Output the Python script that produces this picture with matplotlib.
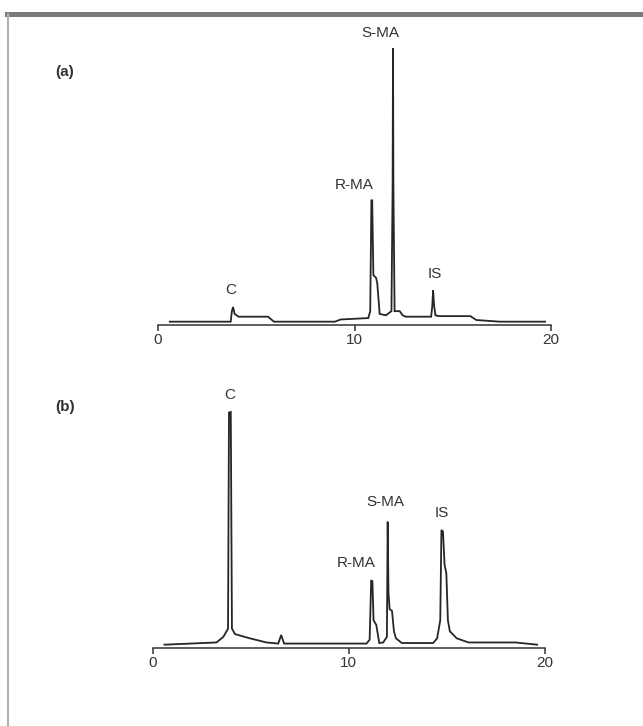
import matplotlib
matplotlib.use("Agg")
import matplotlib.pyplot as plt
from matplotlib.lines import Line2D

plt.rcParams['font.family'] = ['Liberation Sans', 'DejaVu Sans']

# chromatogram (a): retention time (min) and detector response (arbitrary units)
t_a = [0.6, 3.7, 3.76, 3.82, 3.9, 4.1, 5.6, 5.9, 9.0, 9.3, 10.7, 10.8, 10.86, 10.9, 10.96, 11.1, 11.16,
       11.28, 11.6, 11.88, 11.94, 11.96, 11.98, 12.04, 12.3, 12.45, 12.6, 13.9, 13.96, 14.0, 14.05, 14.12,
       14.3, 15.9, 16.2, 17.4, 19.7]
y_a = [0.012, 0.012, 0.05, 0.065, 0.04, 0.03, 0.03, 0.012, 0.012, 0.02, 0.025, 0.05, 0.45, 0.45, 0.18, 0.17,
       0.15, 0.04, 0.035, 0.05, 0.5, 1.0, 0.5, 0.05, 0.05, 0.035, 0.03, 0.03, 0.07, 0.126, 0.07, 0.035,
       0.032, 0.032, 0.018, 0.012, 0.012]

# chromatogram (b)
t_b = [0.6, 3.25, 3.6, 3.84, 3.89, 3.98, 4.04, 4.2, 4.95, 5.8, 6.4, 6.55, 6.7, 10.9, 11.06, 11.14, 11.2,
       11.26, 11.4, 11.55, 11.75, 11.94, 11.98, 12.02, 12.08, 12.2, 12.3, 12.4, 12.7, 14.3, 14.5, 14.66,
       14.72, 14.8, 14.88, 14.97, 15.05, 15.15, 15.5, 16.1, 18.5, 19.6]
y_b = [0.012, 0.02, 0.04, 0.07, 0.85, 0.852, 0.07, 0.05, 0.035, 0.02, 0.016, 0.047, 0.016, 0.016, 0.03,
       0.245, 0.24, 0.1, 0.083, 0.018, 0.02, 0.04, 0.456, 0.2, 0.14, 0.134, 0.06, 0.035, 0.018, 0.018, 0.035,
       0.1, 0.426, 0.42, 0.3, 0.27, 0.1, 0.06, 0.035, 0.02, 0.02, 0.012]

# peak labels: (text, time, height)
labels_a = [("C", 3.7, 0.126), ("R-MA", 10.0, 0.505), ("S-MA", 11.33, 1.054), ("IS", 14.1, 0.184)]
labels_b = [("C", 3.94, 0.913), ("R-MA", 10.37, 0.307), ("S-MA", 11.85, 0.527), ("IS", 14.76, 0.487)]

xticks = [0, 10, 20]

W, H = 643, 726
fig = plt.figure(figsize=(W / 100, H / 100), dpi=100)

# scanned page border
fig.add_artist(Line2D([7 / W, 1], [1 - 13.5 / H, 1 - 13.5 / H], transform=fig.transFigure,
                      color='#7a7a7a', lw=3.6))
fig.add_artist(Line2D([8 / W, 8 / W], [0, 1 - 13.5 / H], transform=fig.transFigure,
                      color='#b0b0b0', lw=1.5))


def panel(rect, t, y, labels, tag, tag_y):
    ax = fig.add_axes(rect)
    ax.plot(t, y, color='#262626', lw=1.3, solid_joinstyle='miter')
    ax.set_xlim(0, 20)
    ax.set_ylim(0, 1.1)
    for s in ['top', 'left', 'right']:
        ax.spines[s].set_visible(False)
    ax.spines['bottom'].set_color('#333333')
    ax.spines['bottom'].set_linewidth(1.1)
    ax.set_yticks([])
    ax.set_xticks(xticks)
    ax.set_xticklabels([str(v) for v in xticks])
    ax.tick_params(axis='x', direction='out', length=4, width=1.1, pad=2,
                   labelsize=11, colors='#333333')
    ax.patch.set_alpha(0)
    for txt, tx, ty in labels:
        ax.text(tx, ty, txt, ha='center', va='center', fontsize=11, color='#333333', clip_on=False)
    fig.text(65 / W, 1 - tag_y / H, tag, ha='center', va='center', fontsize=11,
             fontweight='bold', color='#333333')
    return ax


panel([158 / W, 1 - 325 / H, 393 / W, 304.7 / H], t_a, y_a, labels_a, "(a)", 72)
panel([152.7 / W, 1 - 648 / H, 392.3 / W, 304.7 / H], t_b, y_b, labels_b, "(b)", 407)

fig.savefig("out.png", dpi=100)
